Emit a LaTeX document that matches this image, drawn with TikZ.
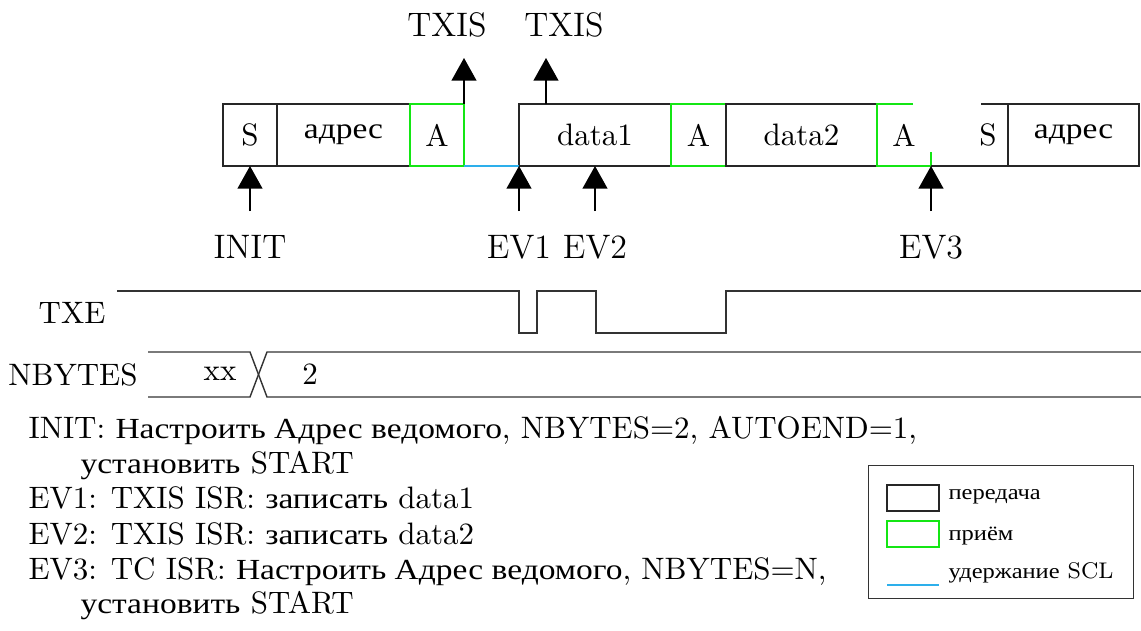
\documentclass[tikz,border=0pt,11pt]{standalone}
\usepackage{fontspec}
\newfontfamily\cyrfont[Scale=0.94, FakeStretch=1.15]{Liberation Serif}
\newcommand{\cyr}[1]{{\cyrfont #1}}
\usetikzlibrary{arrows.meta, positioning}
\newlength{\pxl}
\setlength{\pxl}{0.3533pt}
\definecolor{sclblue}{RGB}{45,175,235}
\definecolor{rxgreen}{RGB}{20,230,20}

\begin{document}
\begin{tikzpicture}[
    x=0.3533pt, y=-0.3533pt,
    tx/.style={draw=black!85, line width=0.6pt, minimum height=62\pxl, inner sep=0pt, outer sep=0pt},
    rx/.style={draw=rxgreen, line width=0.6pt, minimum height=62\pxl, inner sep=0pt, outer sep=0pt},
    tline/.style={draw=black!85, line width=0.6pt},
    rline/.style={draw=rxgreen, line width=0.6pt},
    hold/.style={draw=sclblue, line width=0.6pt},
    evlbl/.style={font=\large},
    evarrow/.style={-{Triangle[length=8pt, width=8.8pt]}, line width=0.5pt},
    sig/.style={draw=black!80, line width=0.5pt},
    desc/.style={anchor=base west, inner sep=0pt},
    leg/.style={anchor=base west, inner sep=0pt, font=\scriptsize}
]
    \useasboundingbox (0,0) rectangle (1141,630);

    % Frame on the bus
    \node[tx, minimum width=54\pxl] (s1) at (250,135) {S};
    \node[tx, minimum width=133\pxl, right=0pt of s1] (adr1) {\cyr{адрес}};
    \node[rx, minimum width=54\pxl, right=0pt of adr1] (a1) {A};
    \node[tx, minimum width=152\pxl, right=55\pxl of a1] (d1) {data1};
    \node[rx, minimum width=55\pxl, right=0pt of d1] (a2) {A};
    \node[tx, minimum width=151\pxl, right=0pt of a2] (d2) {data2};
    \node[rx, draw=none, minimum width=54\pxl, right=0pt of d2] (a3) {A};
    \node[tx, minimum width=131\pxl, right=77\pxl of a3] (adr2) {\cyr{адрес}};
    \node (s2) at ([xshift=-20\pxl]adr2.west) {S};

    \draw[hold] (a1.south east) -- (d1.south west);
    \draw[rline] ([xshift=36\pxl]a3.north west) -- (a3.north west) -- (a3.south west) -- (a3.south east) -- ([yshift=14\pxl]a3.south east);
    \draw[tline] (a3.south east) -- (adr2.south west);
    \draw[tline] (adr2.north west) -- ++(-27,0);

    % Interrupts
    \draw[evarrow] (a1.north east) -- ++(0,-46);
    \node[evlbl, above=56\pxl of a1.north east, xshift=-17\pxl] (txis1) {TXIS};
    \draw[evarrow] ([xshift=27\pxl]d1.north west) -- ++(0,-46);
    \node[evlbl, above=56\pxl of d1.north west, xshift=45\pxl] (txis2) {TXIS};

    % Events
    \node[evlbl, below=58\pxl of s1.south] (init) {INIT};
    \node[evlbl, below=58\pxl of d1.south west] (ev1) {EV1};
    \node[evlbl, below=58\pxl of d1.south] (ev2) {EV2};
    \node[evlbl, below=58\pxl of a3.south east] (ev3) {EV3};
    \draw[evarrow] ([yshift=13\pxl]init.north) -- (s1.south);
    \draw[evarrow] ([yshift=13\pxl]ev1.north) -- (d1.south west);
    \draw[evarrow] ([yshift=13\pxl]ev2.north) -- (d1.south);
    \draw[evarrow] ([yshift=13\pxl]ev3.north) -- (a3.south east);

    % Signals
    \node (txe) at (72,313) {TXE};
    \node (nbytes) at (73,375) {NBYTES};
    \draw[sig] (117,291) -| (519,333) -| (537,291) -| (596,333) -| (726,291) -- (1141,291);
    \draw[sig] (148,352) -- (250,352) -- (267,397) -- (1141,397);
    \draw[sig] (148,397) -- (250,397) -- (267,352) -- (1141,352);
    \node (xx) at (220,374) {xx};
    \node (two) at (310,374) {2};

    % Description
    \node[desc] (l1) at (28,438) {INIT: \cyr{Настроить Адрес ведомого}, NBYTES=2, AUTOEND=1,};
    \node[desc] (l2) at (80,473) {\cyr{установить} START};
    \node[desc] (l3) at (28,508) {EV1: TXIS ISR: \cyr{записать} data1};
    \node[desc] (l4) at (28,544) {EV2: TXIS ISR: \cyr{записать} data2};
    \node[desc] (l5) at (28,579) {EV3: TC ISR: \cyr{Настроить Адрес ведомого}, NBYTES=N,};
    \node[desc] (l6) at (80,613) {\cyr{установить} START};

    % Legend
    \node[draw=black!80, line width=0.6pt, minimum width=265\pxl, minimum height=133\pxl, inner sep=0pt] (legend) at (1001,532) {};
    \draw[tline] (887,485) rectangle (939,511);
    \draw[rline] (887,521) rectangle (939,547);
    \draw[hold] (887,585) -- (939,585);
    \node[leg] (lgtx) at (948,499) {\cyr{передача}};
    \node[leg] (lgrx) at (948,540) {\cyr{приём}};
    \node[leg] (lghold) at (948,578) {\cyr{удержание} SCL};
\end{tikzpicture}
\end{document}
